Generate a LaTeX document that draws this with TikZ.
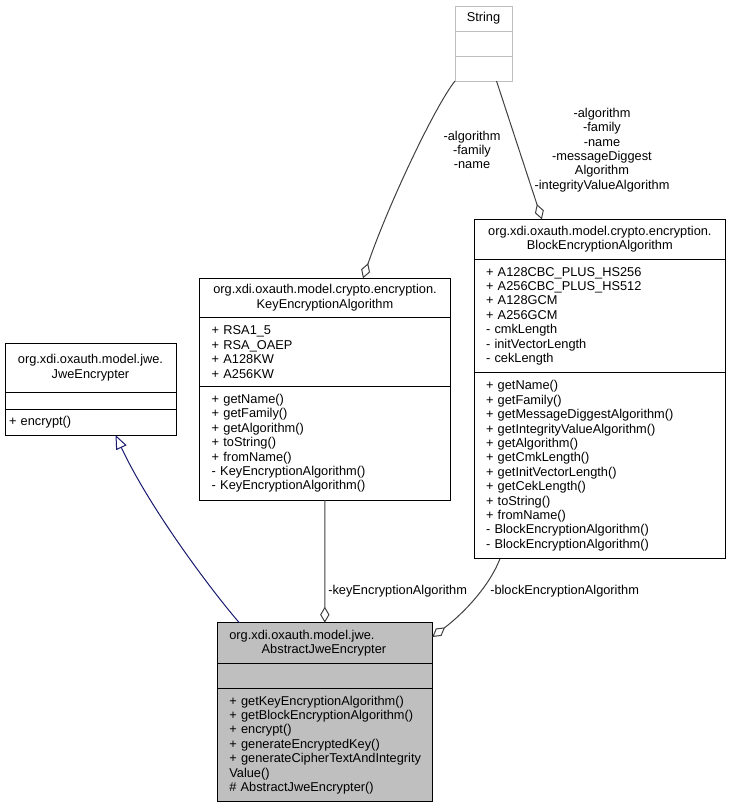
\documentclass[tikz,border=0pt]{standalone}
\usepackage{fontspec}
\usepackage{tikz}
\usetikzlibrary{arrows.meta,calc,positioning}
\newfontfamily\umlfont{Liberation Sans}
\definecolor{edgegray}{RGB}{64,64,64}
\definecolor{inheritblue}{RGB}{25,25,112}
\definecolor{abstractfill}{RGB}{191,191,191}
\definecolor{stringgray}{RGB}{191,191,191}

\tikzset{
  umlbox/.style={draw=black, line width=0.75pt, rectangle, anchor=north west,
    inner xsep=2pt, inner ysep=0pt, outer sep=0pt,
    font=\umlfont\fontsize{9.6}{10.8}\selectfont},
  umltitle/.style={umlbox, align=center},
  umlmembers/.style={umlbox, align=left, inner xsep=9pt},
  umllabel/.style={font=\umlfont\fontsize{9.6}{10.8}\selectfont, align=center, inner sep=0pt},
  aggregation/.style={draw=edgegray, line width=0.75pt,
    -{Diamond[open,length=12pt,width=7pt]}},
  inheritance/.style={draw=inheritblue, line width=0.75pt,
    -{Triangle[open,length=10.5pt,width=8.5pt]}}
}

\begin{document}
\begin{tikzpicture}[x=0.75pt,y=-0.75pt]
\useasboundingbox (0,0) rectangle (731,808);

% String
\node[umltitle, draw=stringgray, minimum width=42.75pt, minimum height=18.75pt]
    (strT) at (455,6) {String};
\node[umlbox, draw=stringgray, minimum width=42.75pt, minimum height=18.75pt]
    (strA) at (strT.south west) {};
\node[umlbox, draw=stringgray, minimum width=42.75pt, minimum height=18.75pt]
    (strM) at (strA.south west) {};

% JweEncrypter
\node[umltitle, text width=124.25pt, minimum height=37.1pt]
    (jweT) at (5,343) {org.xdi.oxauth.model.jwe.\\JweEncrypter};
\node[umlbox, minimum width=128.25pt, minimum height=12.4pt]
    (jweA) at (jweT.south west) {};
\node[umlmembers, text width=122.25pt, inner xsep=3pt, minimum height=19.5pt]
    (jweM) at (jweA.south west) {+ encrypt()};

% KeyEncryptionAlgorithm
\node[umltitle, text width=184.55pt, minimum height=29.25pt]
    (keyT) at (199.3,278.3) {org.xdi.oxauth.model.crypto.encryption.\\KeyEncryptionAlgorithm};
\node[umlmembers, text width=169.95pt, inner xsep=9.3pt, minimum height=52.05pt]
    (keyA) at (keyT.south west) {+ RSA1\_5\\+ RSA\_OAEP\\+ A128KW\\+ A256KW};
\node[umlmembers, text width=169.95pt, inner xsep=9.3pt, minimum height=85pt]
    (keyM) at (keyA.south west) {+ getName()\\+ getFamily()\\+ getAlgorithm()\\+ toString()\\+ fromName()\\- KeyEncryptionAlgorithm()\\- KeyEncryptionAlgorithm()};

% BlockEncryptionAlgorithm
\node[umltitle, text width=184.8pt, minimum height=30.15pt]
    (blkT) at (474,219.3) {org.xdi.oxauth.model.crypto.encryption.\\BlockEncryptionAlgorithm};
\node[umlmembers, text width=170.8pt, minimum height=84.9pt]
    (blkA) at (blkT.south west) {+ A128CBC\_PLUS\_HS256\\+ A256CBC\_PLUS\_HS512\\+ A128GCM\\+ A256GCM\\- cmkLength\\- initVectorLength\\- cekLength};
\node[umlmembers, text width=170.8pt, minimum height=139.7pt]
    (blkM) at (blkA.south west) {+ getName()\\+ getFamily()\\+ getMessageDiggestAlgorithm()\\+ getIntegrityValueAlgorithm()\\+ getAlgorithm()\\+ getCmkLength()\\+ getInitVectorLength()\\+ getCekLength()\\+ toString()\\+ fromName()\\- BlockEncryptionAlgorithm()\\- BlockEncryptionAlgorithm()};

% AbstractJweEncrypter
\node[umlmembers, fill=abstractfill, text width=143.25pt, minimum height=30.45pt]
    (absT) at (217.3,622.7) {org.xdi.oxauth.model.jwe.\\\hspace*{24.3pt}AbstractJweEncrypter};
\node[umlbox, fill=abstractfill, minimum width=161.25pt, minimum height=18.75pt]
    (absA) at (absT.south west) {};
\node[umlmembers, fill=abstractfill, text width=143.25pt, minimum height=85.05pt]
    (absM) at (absA.south west) {+ getKeyEncryptionAlgorithm()\\+ getBlockEncryptionAlgorithm()\\+ encrypt()\\+ generateEncryptedKey()\\\mbox{+ generateCipherTextAndIntegrity}\\Value()\\\# AbstractJweEncrypter()};

% String members
\draw[aggregation] (strM.south west)
    .. controls ($(strM.south west)+(-20,25)$) and ($(keyT.north)+(63,-73)$)
    .. ($(keyT.north)+(38,0)$);
\draw[aggregation] ($(strM.south)+(13,0)$) -- ($(blkT.north)+(-58,0)$);
\node[umllabel] (strKeyLabel) at (472,150) {-algorithm\\-family\\-name};
\node[umllabel] (strBlkLabel) at (602,150)
    {-algorithm\\-family\\-name\\-messageDiggest\\Algorithm\\-integrityValueAlgorithm};

% Algorithm members
\draw[aggregation] (keyM.south) -- (absT.north);
\node[umllabel, anchor=west] (keyAbsLabel) at (328,591) {-keyEncryptionAlgorithm};
\draw[aggregation] ($(blkM.south)+(-100,0)$)
    .. controls ($(blkM.south)+(-110,26)$) and ($(absT.east)+(33,-31)$)
    .. ($(absT.east)+(0,-6)$);
\node[umllabel, anchor=west] (blkAbsLabel) at (490,591) {-blockEncryptionAlgorithm};

% Inheritance
\draw[inheritance] ($(absT.north)+(-85.5,0)$)
    .. controls ($(absT.north)+(-110,-28)$) and ($(jweM.south)+(60,75)$)
    .. ($(jweM.south)+(25,0)$);

\end{tikzpicture}
\end{document}
